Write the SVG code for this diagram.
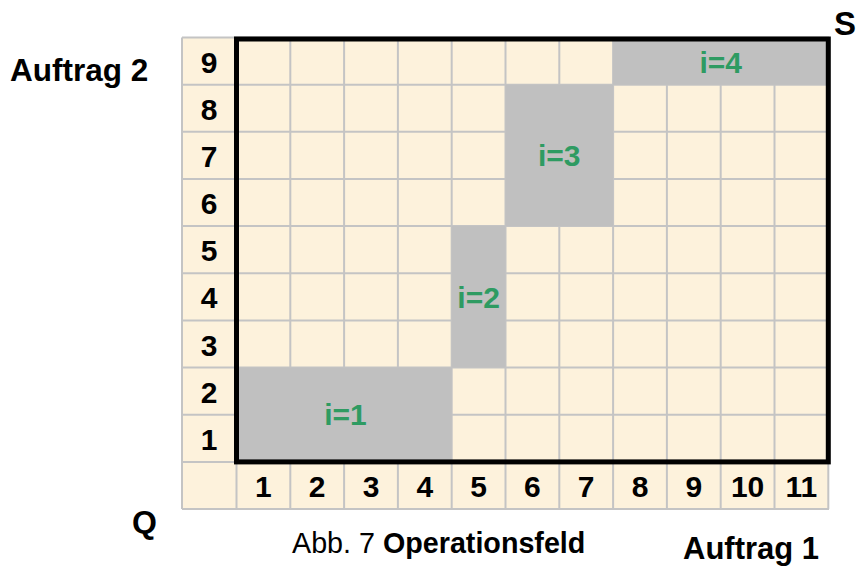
<svg xmlns="http://www.w3.org/2000/svg" width="856" height="566" viewBox="0 0 856 566">
<style>
.t{font-family:"Liberation Sans",Arial,sans-serif;font-weight:bold;fill:#000}
.d{font-size:30px;text-anchor:middle}
.g{font-family:"Liberation Sans",Arial,sans-serif;font-weight:bold;font-size:30px;fill:#2E9B62;text-anchor:middle}
.grid line{stroke:#C4C4C4;stroke-width:2}
.blk{fill:#C0C0C0}
</style>
<rect width="856" height="566" fill="#fff"/>
<g id="field">
<rect x="182" y="37.5" width="647" height="471.5" fill="#FDF2DC"/>
<g class="grid">
<line x1="182" y1="37.5" x2="182" y2="509"/>
<line x1="236.5" y1="37.5" x2="236.5" y2="509"/>
<line x1="290.3" y1="37.5" x2="290.3" y2="509"/>
<line x1="344.1" y1="37.5" x2="344.1" y2="509"/>
<line x1="397.9" y1="37.5" x2="397.9" y2="509"/>
<line x1="451.7" y1="37.5" x2="451.7" y2="509"/>
<line x1="505.5" y1="37.5" x2="505.5" y2="509"/>
<line x1="559.3" y1="37.5" x2="559.3" y2="509"/>
<line x1="613.1" y1="37.5" x2="613.1" y2="509"/>
<line x1="666.9" y1="37.5" x2="666.9" y2="509"/>
<line x1="720.7" y1="37.5" x2="720.7" y2="509"/>
<line x1="774.5" y1="37.5" x2="774.5" y2="509"/>
<line x1="828.3" y1="37.5" x2="828.3" y2="509"/>
<line x1="182" y1="37.5" x2="829" y2="37.5"/>
<line x1="182" y1="84.7" x2="829" y2="84.7"/>
<line x1="182" y1="131.8" x2="829" y2="131.8"/>
<line x1="182" y1="179" x2="829" y2="179"/>
<line x1="182" y1="226.1" x2="829" y2="226.1"/>
<line x1="182" y1="273.3" x2="829" y2="273.3"/>
<line x1="182" y1="320.4" x2="829" y2="320.4"/>
<line x1="182" y1="367.6" x2="829" y2="367.6"/>
<line x1="182" y1="414.7" x2="829" y2="414.7"/>
<line x1="182" y1="461.9" x2="829" y2="461.9"/>
<line x1="182" y1="509" x2="829" y2="509"/>
</g>
</g>
<g id="row-labels" class="t d">
<text x="209" y="72.6">9</text>
<text x="209" y="119.7">8</text>
<text x="209" y="166.9">7</text>
<text x="209" y="214">6</text>
<text x="209" y="261.2">5</text>
<text x="209" y="308.3">4</text>
<text x="209" y="355.5">3</text>
<text x="209" y="402.6">2</text>
<text x="209" y="449.8">1</text>
</g>
<g id="col-labels" class="t d">
<text x="263.4" y="496.9">1</text>
<text x="317.2" y="496.9">2</text>
<text x="371" y="496.9">3</text>
<text x="424.8" y="496.9">4</text>
<text x="478.6" y="496.9">5</text>
<text x="532.4" y="496.9">6</text>
<text x="586.2" y="496.9">7</text>
<text x="640" y="496.9">8</text>
<text x="693.8" y="496.9">9</text>
<text x="747.6" y="496.9">10</text>
<text x="801.4" y="496.9">11</text>
</g>
<g id="op1">
<rect class="blk" x="236.5" y="367.6" width="215.2" height="94.3"/>
<text class="g" x="345.5" y="425">i=1</text>
</g>
<g id="op2">
<rect class="blk" x="451.7" y="226.1" width="53.8" height="141.5"/>
<text class="g" x="478.6" y="308">i=2</text>
</g>
<g id="op3">
<rect class="blk" x="505.5" y="84.7" width="107.6" height="141.4"/>
<text class="g" x="559.3" y="166">i=3</text>
</g>
<g id="op4">
<rect class="blk" x="613.1" y="37.5" width="215.2" height="47.2"/>
<text class="g" x="720.8" y="73">i=4</text>
</g>
<g id="frame">
<rect x="236.5" y="39" width="591.8" height="422.9" fill="none" stroke="#000" stroke-width="5"/>
</g>
<g id="labels" class="t">
<text x="10" y="81" font-size="31.5">Auftrag 2</text>
<text x="834" y="35" font-size="33">S</text>
<text x="132" y="533" font-size="32">Q</text>
<text x="683" y="559" font-size="31">Auftrag 1</text>
<text x="292" y="552.5" font-size="28.7" font-weight="normal">Abb. 7 <tspan font-weight="bold">Operationsfeld</tspan></text>
</g>
</svg>
